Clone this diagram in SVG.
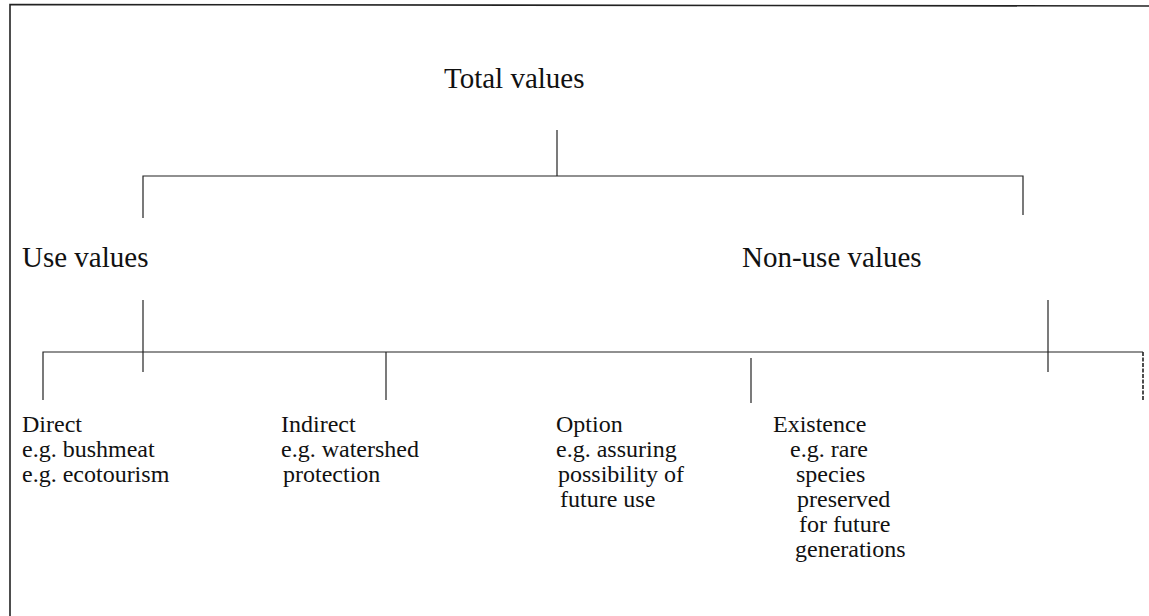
<svg xmlns="http://www.w3.org/2000/svg" width="1149" height="616" viewBox="0 0 1149 616">
<style>
.t{font-family:"Liberation Serif","Times New Roman",serif;font-size:24px;fill:#111}
.h{font-size:29px}
.c{stroke:#222;stroke-width:1.2;fill:none}
</style>
<rect width="1149" height="616" fill="#fff"/>
<g id="frame" class="c">
<path d="M10,616 V4.5 L1149,6" stroke-width="1.6"/>
</g>
<g id="connectors" class="c">
<path d="M557,130 V176"/>
<path d="M143,218 V176 H1023 V215"/>
<path d="M143,300 V372"/>
<path d="M43,400 V352 H1143"/>
<path d="M1143,352 V400" stroke-dasharray="4,1.5" stroke-width="1.6"/>
<path d="M386,352 V400"/>
<path d="M751,358 V403"/>
<path d="M1048,300 V372"/>
</g>
<g id="total"><text class="t h" x="444" y="88">Total values</text></g>
<g id="use"><text class="t h" x="22" y="267">Use values</text></g>
<g id="nonuse"><text class="t h" x="742" y="267">Non-use values</text></g>
<g id="direct"><text class="t" x="22" y="432">Direct<tspan x="22" dy="25">e.g. bushmeat</tspan><tspan x="22" dy="25">e.g. ecotourism</tspan></text></g>
<g id="indirect"><text class="t" x="281" y="432">Indirect<tspan x="281" dy="25">e.g. watershed</tspan><tspan x="283" dy="25">protection</tspan></text></g>
<g id="option"><text class="t" x="556" y="432">Option<tspan x="556" dy="25">e.g. assuring</tspan><tspan x="558" dy="25">possibility of</tspan><tspan x="560" dy="25">future use</tspan></text></g>
<g id="existence"><text class="t" x="773" y="432">Existence<tspan x="790" dy="25">e.g. rare</tspan><tspan x="796" dy="25">species</tspan><tspan x="797" dy="25">preserved</tspan><tspan x="799" dy="25">for future</tspan><tspan x="795" dy="25">generations</tspan></text></g>
</svg>
